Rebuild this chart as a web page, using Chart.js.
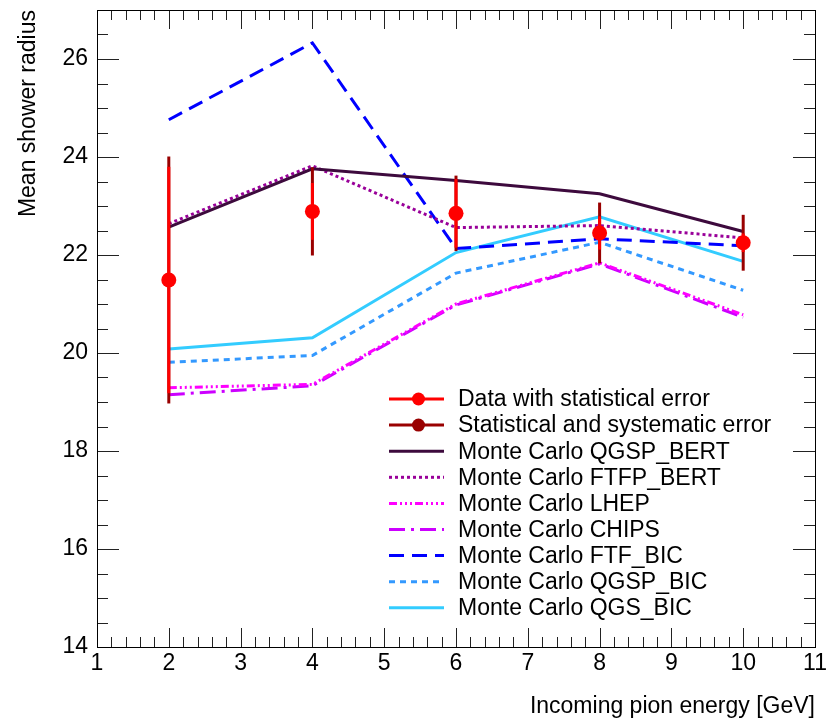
<!DOCTYPE html>
<html>
<head>
<meta charset="utf-8">
<script src="https://cdn.jsdelivr.net/npm/chart.js@4.4.1/dist/chart.umd.min.js"></script>
<style>
  body { margin: 0; background: #fff; }
  canvas { display: block; }
</style>
</head>
<body>
<canvas id="myChart" width="836" height="720"></canvas>
<script>
// Data
const energies = [2, 4, 6, 8, 10];
const dataMean = [21.49, 22.89, 22.85, 22.45, 22.25];
const statErr = [2.31, 0.58, 0.7, 0.34, 0.19];
const totalErr = [2.52, 0.9, 0.77, 0.62, 0.57];

const qgspBert = [22.57, 23.76, 23.52, 23.25, 22.48];
const ftfpBert = [22.64, 23.82, 22.56, 22.6, 22.35];
const lhep = [19.29, 19.36, 21.0, 21.84, 20.78];
const chips = [19.15, 19.33, 20.98, 21.82, 20.73];
const ftfBic = [24.76, 26.33, 22.13, 22.33, 22.19];
const qgspBic = [19.81, 19.95, 21.63, 22.26, 21.28];
const qgsBic = [20.08, 20.31, 22.05, 22.78, 21.87];

const xTicks = [1, 2, 3, 4, 5, 6, 7, 8, 9, 10, 11];
const yTicks = [14, 16, 18, 20, 22, 24, 26];

const fontFamily = "'Liberation Sans', Arial, Helvetica, sans-serif";
const redColor = "#ff0000";
const sysColor = "#990000";

function points(values) {
  return energies.map((e, i) => ({ x: e, y: values[i] }));
}

function mcLine(label, values, color, dash) {
  return {
    type: "line",
    label: label,
    data: points(values),
    borderColor: color,
    backgroundColor: color,
    borderWidth: 3,
    borderDash: dash,
    pointRadius: 0,
    tension: 0,
    fill: false,
  };
}

// ROOT style frame with ticks pointing inwards
const frameTicks = {
  id: "frameTicks",
  afterDraw(chart) {
    const ctx = chart.ctx;
    const area = chart.chartArea;
    const xs = chart.scales.x;
    const ys = chart.scales.y;
    ctx.save();
    ctx.strokeStyle = "#222";
    ctx.lineWidth = 1;
    ctx.beginPath();
    // x ticks, 5 divisions per unit
    for (let v = xs.min; v <= xs.max + 1e-6; v += 0.2) {
      const px = Math.round(xs.getPixelForValue(v)) + 0.5;
      const major = Math.abs(v - Math.round(v)) < 1e-6;
      const len = major ? 19 : 10;
      ctx.moveTo(px, area.bottom);
      ctx.lineTo(px, area.bottom - len);
      ctx.moveTo(px, area.top);
      ctx.lineTo(px, area.top + len);
    }
    // y ticks, 4 divisions per major step of 2
    for (let v = ys.min; v <= ys.max + 1e-6; v += 0.5) {
      const py = Math.round(ys.getPixelForValue(v)) + 0.5;
      const major = Math.abs(v / 2 - Math.round(v / 2)) < 1e-6;
      const len = major ? 22 : 11;
      ctx.moveTo(area.left, py);
      ctx.lineTo(area.left + len, py);
      ctx.moveTo(area.right, py);
      ctx.lineTo(area.right - len, py);
    }
    ctx.stroke();
    ctx.strokeStyle = "#000";
    ctx.strokeRect(Math.round(area.left) + 0.5, Math.round(area.top) + 0.5,
      Math.round(area.right - area.left), Math.round(area.bottom - area.top));
    ctx.restore();
  },
};

// Error bars for the data points, drawn just before the markers
const errorBars = {
  id: "errorBars",
  beforeDatasetDraw(chart, args) {
    if (args.index !== 0) return;
    const ctx = chart.ctx;
    const xs = chart.scales.x;
    const ys = chart.scales.y;
    ctx.save();
    for (let i = 0; i < energies.length; i++) {
      const px = xs.getPixelForValue(energies[i]);
      // total error
      ctx.strokeStyle = sysColor;
      ctx.lineWidth = 3;
      ctx.beginPath();
      ctx.moveTo(px, ys.getPixelForValue(dataMean[i] - totalErr[i]));
      ctx.lineTo(px, ys.getPixelForValue(dataMean[i] + totalErr[i]));
      ctx.stroke();
      // statistical error
      ctx.strokeStyle = redColor;
      ctx.beginPath();
      ctx.moveTo(px, ys.getPixelForValue(dataMean[i] - statErr[i]));
      ctx.lineTo(px, ys.getPixelForValue(dataMean[i] + statErr[i]));
      ctx.stroke();
    }
    ctx.restore();
  },
};

// Legend box inside the plot
const rootLegend = {
  id: "rootLegend",
  afterDraw(chart) {
    const ctx = chart.ctx;
    const sets = chart.data.datasets;
    const entries = [
      { label: sets[0].label, color: redColor, dash: [], marker: true },
      { label: "Statistical and systematic error", color: sysColor, dash: [], marker: true },
    ];
    for (let i = 1; i < sets.length; i++) {
      entries.push({ label: sets[i].label, color: sets[i].borderColor, dash: sets[i].borderDash, marker: false });
    }
    const x0 = 389;
    const x1 = 444;
    const textX = 458;
    const y0 = 399;
    const step = 26.1;
    ctx.save();
    ctx.font = "23px " + fontFamily;
    ctx.textBaseline = "middle";
    ctx.textAlign = "left";
    entries.forEach((e, i) => {
      const y = y0 + i * step;
      ctx.strokeStyle = e.color;
      ctx.lineWidth = 3;
      ctx.setLineDash(e.dash);
      ctx.beginPath();
      ctx.moveTo(x0, y);
      ctx.lineTo(x1, y);
      ctx.stroke();
      ctx.setLineDash([]);
      if (e.marker) {
        ctx.fillStyle = e.color;
        ctx.beginPath();
        ctx.arc((x0 + x1) / 2 + 2, y, 6.5, 0, Math.PI * 2);
        ctx.fill();
      }
      ctx.fillStyle = "#000";
      ctx.fillText(e.label, textX, y + 1);
    });
    ctx.restore();
  },
};

new Chart("myChart", {
  data: {
    datasets: [
      {
        type: "scatter",
        label: "Data with statistical error",
        data: points(dataMean),
        backgroundColor: redColor,
        borderColor: redColor,
        pointRadius: 7.5,
        pointBorderWidth: 0,
      },
      mcLine("Monte Carlo QGSP_BERT", qgspBert, "#3d0a3d", []),
      mcLine("Monte Carlo FTFP_BERT", ftfpBert, "#990099", [3, 3]),
      mcLine("Monte Carlo LHEP", lhep, "#ff00ff", [8, 3, 2, 3, 2, 3, 2, 3]),
      mcLine("Monte Carlo CHIPS", chips, "#cc00ff", [16, 6, 3, 6]),
      mcLine("Monte Carlo FTF_BIC", ftfBic, "#0000ff", [15, 8]),
      mcLine("Monte Carlo QGSP_BIC", qgspBic, "#3399ff", [6, 5]),
      mcLine("Monte Carlo QGS_BIC", qgsBic, "#33ccff", []),
    ],
  },
  options: {
    responsive: false,
    animation: false,
    devicePixelRatio: 1,
    layout: {
      padding: { top: 10, right: 21, left: 0, bottom: 0 },
    },
    scales: {
      x: {
        type: "linear",
        min: 1,
        max: 11,
        afterFit: (scale) => {
          scale.height = 73;
          scale.paddingLeft = 0;
          scale.paddingRight = 0;
        },
        afterBuildTicks: (scale) => {
          scale.ticks = xTicks.map((v) => ({ value: v }));
        },
        grid: { display: false, drawTicks: false },
        border: { display: false },
        ticks: {
          autoSkip: false,
          maxRotation: 0,
          padding: 3,
          color: "#000",
          font: { size: 23, family: fontFamily },
        },
        title: {
          display: true,
          text: "Incoming pion energy [GeV]",
          align: "end",
          color: "#000",
          padding: { top: 0, bottom: 0 },
          font: { size: 23, family: fontFamily },
        },
      },
      y: {
        type: "linear",
        min: 14,
        max: 27,
        afterFit: (scale) => {
          scale.width = 97;
          scale.paddingTop = 0;
          scale.paddingBottom = 0;
        },
        afterBuildTicks: (scale) => {
          scale.ticks = yTicks.map((v) => ({ value: v }));
        },
        grid: { display: false, drawTicks: false },
        border: { display: false },
        ticks: {
          padding: 9,
          color: "#000",
          font: { size: 23, family: fontFamily },
        },
        title: {
          display: true,
          text: "Mean shower radius",
          align: "end",
          color: "#000",
          padding: { top: 15, bottom: 0 },
          font: { size: 23, family: fontFamily },
        },
      },
    },
    plugins: {
      legend: { display: false },
      tooltip: { enabled: false },
    },
  },
  plugins: [frameTicks, errorBars, rootLegend],
});
</script>
</body>
</html>
